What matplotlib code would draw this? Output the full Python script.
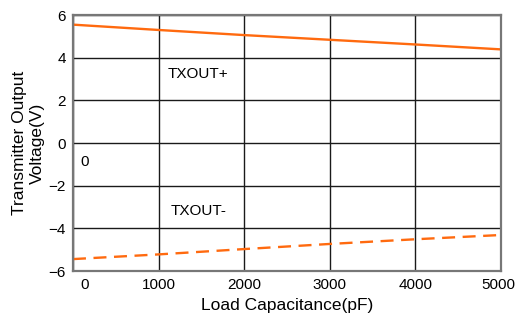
import matplotlib
matplotlib.use("Agg")
import matplotlib.pyplot as plt
import matplotlib.transforms as mtransforms

plt.rcParams['font.family'] = ['Liberation Sans', 'DejaVu Sans']

cap = [0, 1000, 2000, 3000, 4000, 5000]
txout_pos = [5.55, 5.30, 5.06, 4.84, 4.62, 4.39]
txout_neg = [-5.44, -5.22, -4.97, -4.73, -4.51, -4.31]
xticks = [0, 1000, 2000, 3000, 4000, 5000]
yticks = [-6, -4, -2, 0, 2, 4, 6]

fig = plt.figure(figsize=(5.15, 3.2), dpi=100)
ax = fig.add_axes([0.1417, 0.153, 0.8313, 0.800])
color = '#FF6A0F'
ax.plot(cap, txout_pos, color=color, lw=1.7)
ax.plot(cap, txout_neg, color=color, lw=1.7, dashes=(5.5, 3.2))
ax.set_xlim(0, 5000)
ax.set_ylim(-6, 6)
ax.set_xticks(xticks)
ax.set_yticks(yticks)
ax.tick_params(length=0, labelsize=11, pad=5, colors='black')
ax.grid(True, color='#1a1a1a', lw=1.0)
for s in ax.spines.values():
    s.set_color('#777777')
    s.set_linewidth(1.6)
ax.set_xlabel('Load Capacitance(pF)', fontsize=12.5, labelpad=4)
ax.set_ylabel('Transmitter Output\nVoltage(V)', fontsize=12.5, labelpad=3, linespacing=1.2)
ax.text(1460, 3.23, 'TXOUT+', fontsize=11, ha='center', va='center')
ax.text(1470, -3.19, 'TXOUT-', fontsize=11, ha='center', va='center')
ax.text(140, -0.89, '0', fontsize=11, ha='center', va='center')

fig.canvas.draw()
labs = ax.get_xticklabels()
labs[0].set_transform(labs[0].get_transform() + mtransforms.ScaledTranslation(12/100, 0, fig.dpi_scale_trans))
labs[-1].set_transform(labs[-1].get_transform() + mtransforms.ScaledTranslation(-3/100, 0, fig.dpi_scale_trans))
fig.savefig('out.png', dpi=100)
